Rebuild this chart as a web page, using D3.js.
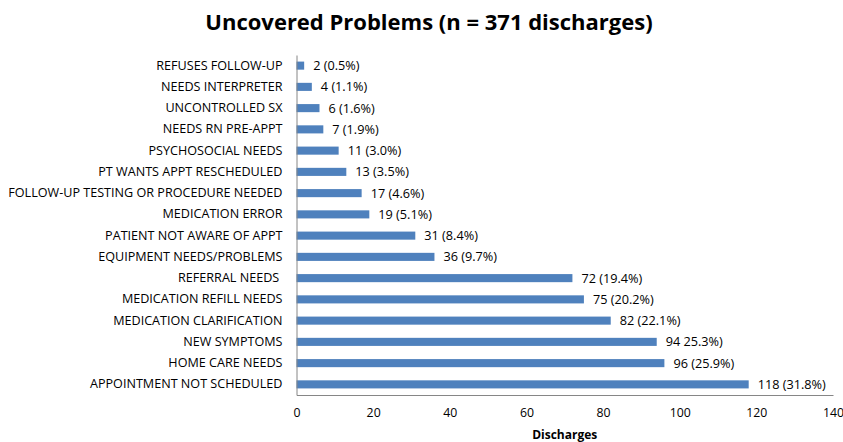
<!DOCTYPE html>
<html>
<head>
<meta charset="utf-8">
<script src="https://cdn.jsdelivr.net/npm/d3@7"></script>
<style>
  body { margin: 0; background: #fff; }
  text { font-family: "Liberation Sans Narrow", "Open Sans", sans-serif; fill: #000; }
</style>
</head>
<body>
<div id="chart"></div>
<script>
var categories = ["REFUSES FOLLOW-UP", "NEEDS INTERPRETER", "UNCONTROLLED SX", "NEEDS RN PRE-APPT",
  "PSYCHOSOCIAL NEEDS", "PT WANTS APPT RESCHEDULED", "FOLLOW-UP TESTING OR PROCEDURE NEEDED",
  "MEDICATION ERROR", "PATIENT NOT AWARE OF APPT", "EQUIPMENT NEEDS/PROBLEMS", "REFERRAL NEEDS ",
  "MEDICATION REFILL NEEDS", "MEDICATION CLARIFICATION", "NEW SYMPTOMS", "HOME CARE NEEDS",
  "APPOINTMENT NOT SCHEDULED"]
var counts = [2, 4, 6, 7, 11, 13, 17, 19, 31, 36, 72, 75, 82, 94, 96, 118]
var valueLabels = ["2 (0.5%)", "4 (1.1%)", "6 (1.6%)", "7 (1.9%)", "11 (3.0%)", "13 (3.5%)",
  "17 (4.6%)", "19 (5.1%)", "31 (8.4%)", "36 (9.7%)", "72 (19.4%)", "75 (20.2%)", "82 (22.1%)",
  "94 25.3%)", "96 (25.9%)", "118 (31.8%)"]
var xTicks = [0, 20, 40, 60, 80, 100, 120, 140]

var width = 843,
  height = 442,
  plotLeft = 296.5,
  plotRight = 833,
  plotTop = 55,
  plotBottom = 395

var svg = d3.select("#chart")
  .append("svg")
  .attr("width", width)
  .attr("height", height)

var x = d3.scaleLinear()
  .domain([0, 140])
  .range([plotLeft, plotRight])

var y = d3.scaleBand()
  .domain(categories)
  .range([plotTop, plotBottom])
  .paddingInner(0.62)
  .paddingOuter(0.31)

// title
svg.append("text")
  .attr("x", 429)
  .attr("y", 30)
  .attr("text-anchor", "middle")
  .style("font-size", "22px")
  .style("font-weight", "bold")
  .text("Uncovered Problems (n = 371 discharges)")

// bars
svg.selectAll(".bar")
  .data(counts)
  .enter()
  .append("rect")
  .attr("class", "bar")
  .attr("x", x(0))
  .attr("y", (d, i) => y(categories[i]))
  .attr("width", d => x(d) - x(0))
  .attr("height", y.bandwidth())
  .style("fill", "#4f81bd")

// value labels
svg.selectAll(".val")
  .data(counts)
  .enter()
  .append("text")
  .attr("class", "val")
  .attr("x", d => x(d) + 9)
  .attr("y", (d, i) => y(categories[i]) + y.bandwidth() / 2)
  .attr("dy", "0.35em")
  .style("font-size", "12.7px")
  .text((d, i) => valueLabels[i])

// y axis, labels only
var yAxis = svg.append("g")
  .attr("transform", "translate(" + plotLeft + ",0)")
  .call(d3.axisLeft(y).tickSize(0).tickPadding(14))
yAxis.select(".domain").attr("stroke", "#868686")
yAxis.selectAll("text")
  .style("font-size", "12.6px")
  .style("white-space", "pre")

// x axis
var xAxis = svg.append("g")
  .attr("transform", "translate(0," + plotBottom + ")")
  .call(d3.axisBottom(x).tickValues(xTicks).tickSize(0).tickPadding(13))
xAxis.select(".domain").attr("stroke", "#868686")
xAxis.selectAll("text").style("font-size", "12.3px")

svg.append("text")
  .attr("x", (plotLeft + plotRight) / 2)
  .attr("y", 439)
  .attr("text-anchor", "middle")
  .style("font-size", "12px")
  .style("font-weight", "bold")
  .text("Discharges")
</script>
</body>
</html>
